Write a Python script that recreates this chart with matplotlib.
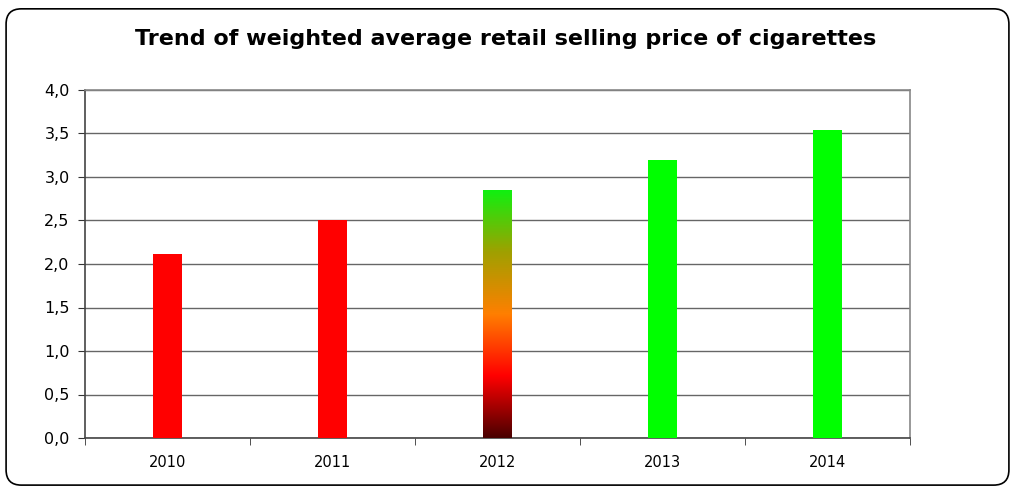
import matplotlib
matplotlib.use("Agg")
import matplotlib.pyplot as plt
import numpy as np
from matplotlib.patches import FancyBboxPatch
from matplotlib.colors import LinearSegmentedColormap

years = ["2010", "2011", "2012", "2013", "2014"]
prices = [2.12, 2.50, 2.85, 3.20, 3.54]
bar_colors = ["#ff0000", "#ff0000", None, "#00ff00", "#00ff00"]
yticks = [0.0, 0.5, 1.0, 1.5, 2.0, 2.5, 3.0, 3.5, 4.0]
ytick_labels = ["0,0", "0,5", "1,0", "1,5", "2,0", "2,5", "3,0", "3,5", "4,0"]

fig = plt.figure(figsize=(10.15, 4.91), dpi=100)
fig.patch.set_facecolor("white")

border = FancyBboxPatch((0.006, 0.012), 0.988, 0.97, boxstyle="round,pad=0,rounding_size=0.015",
                        transform=fig.transFigure, facecolor="none", edgecolor="black", lw=1.2,
                        mutation_aspect=2.07)
fig.patches.append(border)

ax = fig.add_axes([85/1015, 1-438/491, (910-85)/1015, (438-90)/491])
x = np.arange(len(years))
width = 0.17
bars = ax.bar(x, prices, width=width, color=[c if c else "none" for c in bar_colors], zorder=3)

cmap = LinearSegmentedColormap.from_list("grad", [(0, "#4a0000"), (0.25, "#ff0000"), (0.5, "#ff7f00"), (0.75, "#a0a000"), (1.0, "#10f010")])
gi = 2
grad = np.linspace(0, 1, 256).reshape(-1, 1)
im = ax.imshow(grad, cmap=cmap, aspect="auto", origin="lower",
               extent=(x[gi]-width/2, x[gi]+width/2, 0, prices[gi]), zorder=3)
im.set_clip_path(bars[gi])

ax.set_xlim(-0.5, len(years)-0.5)
ax.set_ylim(0, 4.0)
ax.set_yticks(yticks)
ax.set_yticklabels(ytick_labels, fontsize=11.5, family="DejaVu Sans")
ax.set_xticks(x)
ax.set_xticklabels(years, fontsize=10.5, family="DejaVu Sans")
ax.tick_params(axis="x", length=0, pad=12)
ax.set_xticks(np.arange(len(years)+1)-0.5, minor=True)
ax.tick_params(axis="x", which="minor", length=5, color="#333333", direction="out")
ax.tick_params(axis="y", length=5, color="#333333", direction="out", pad=6)
ax.grid(axis="y", color="#666666", lw=1.0, zorder=1)
for s in ["top", "right"]:
    ax.spines[s].set_color("#888888")
    ax.spines[s].set_linewidth(1.2)
for s in ["left", "bottom"]:
    ax.spines[s].set_color("#444444")
    ax.spines[s].set_linewidth(1.2)

fig.text(506/1015, 1-45/491, "Trend of weighted average retail selling price of cigarettes",
         ha="center", va="baseline", fontsize=16, fontweight="bold", family="DejaVu Sans")

fig.savefig("out.png", dpi=100)
